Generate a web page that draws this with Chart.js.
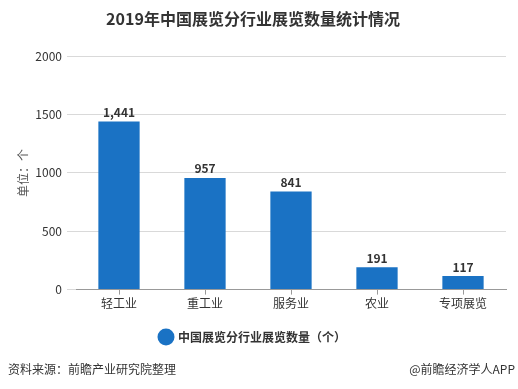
<!DOCTYPE html>
<html>
<head>
<meta charset="utf-8">
<script src="https://cdn.jsdelivr.net/npm/chart.js@4/dist/chart.umd.min.js"></script>
<style>
html, body { margin: 0; padding: 0; background: #fff; }
#wrap { width: 518px; height: 389px; position: relative; }
</style>
</head>
<body>
<div id="wrap"><canvas id="myChart" width="518" height="389"></canvas></div>
<script>
var categories = ["轻工业", "重工业", "服务业", "农业", "专项展览"];
var counts = [1441, 957, 841, 191, 117];
var yTicks = [0, 500, 1000, 1500, 2000];

var seriesName = "中国展览分行业展览数量（个）";
var barColor = "#1a72c4";
var fontFamily = "'Noto Sans CJK SC', 'Microsoft YaHei', sans-serif";

// numbers above the bars
var valueLabels = {
	id: 'valueLabels',
	afterDatasetsDraw: function(chart) {
		var ctx = chart.ctx;
		var meta = chart.getDatasetMeta(0);
		ctx.save();
		ctx.font = 'bold 12px ' + fontFamily;
		ctx.fillStyle = '#333';
		ctx.textAlign = 'center';
		ctx.textBaseline = 'bottom';
		meta.data.forEach(function(bar, i) {
			ctx.fillText(counts[i].toLocaleString('en-US'), bar.x, bar.y - 3);
		});
		ctx.restore();
	}
};

// source line at the bottom
var footer = {
	id: 'footer',
	afterDraw: function(chart) {
		var ctx = chart.ctx;
		ctx.save();
		ctx.font = '12px ' + fontFamily;
		ctx.fillStyle = '#333';
		ctx.textBaseline = 'middle';
		ctx.textAlign = 'left';
		ctx.fillText('资料来源：前瞻产业研究院整理', 8, 369);
		ctx.textAlign = 'right';
		ctx.fillText('@前瞻经济学人APP', 515, 369);
		ctx.restore();
	}
};

Chart.defaults.font.family = fontFamily;
Chart.defaults.color = '#333';

var ctx = document.getElementById('myChart').getContext('2d');
var myChart = new Chart(ctx, {
	type: 'bar',
	data: {
		labels: categories,
		datasets: [{
			label: seriesName,
			data: counts,
			backgroundColor: barColor,
			barPercentage: 0.48,
			categoryPercentage: 1
		}]
	},
	options: {
		responsive: false,
		animation: false,
		layout: { padding: { left: 0, right: 12, top: 0, bottom: 36 } },
		plugins: {
			title: {
				display: true,
				text: '2019年中国展览分行业展览数量统计情况',
				color: '#333',
				font: { size: 16, weight: 'bold' },
				padding: { top: 9, bottom: 28 }
			},
			legend: {
				position: 'bottom',
				labels: {
					usePointStyle: true,
					pointStyle: 'circle',
					boxWidth: 12,
					boxHeight: 12,
					color: '#333',
					font: { size: 12, weight: 'bold' },
					padding: 18
				}
			},
			tooltip: { enabled: false }
		},
		scales: {
			x: {
				grid: {
					offset: false,
					drawOnChartArea: false,
					color: '#999',
					tickLength: 5
				},
				border: { color: '#999' },
				ticks: { font: { size: 12 }, color: '#333', padding: 2 }
			},
			y: {
				min: 0,
				max: 2000,
				afterFit: function(scale) { scale.width = 76; },
				afterBuildTicks: function(scale) {
					scale.ticks = yTicks.map(function(v) { return { value: v }; });
				},
				grid: { color: '#d9d9d9', tickLength: 9 },
				border: { display: false },
				ticks: {
					font: { size: 12 },
					color: '#333',
					padding: 5,
					callback: function(v) { return String(v); }
				},
				title: {
					display: true,
					text: '单位：个',
					color: '#555',
					font: { size: 12 },
					padding: { top: 16, bottom: 0 }
				}
			}
		}
	},
	plugins: [valueLabels, footer]
});
</script>
</body>
</html>
